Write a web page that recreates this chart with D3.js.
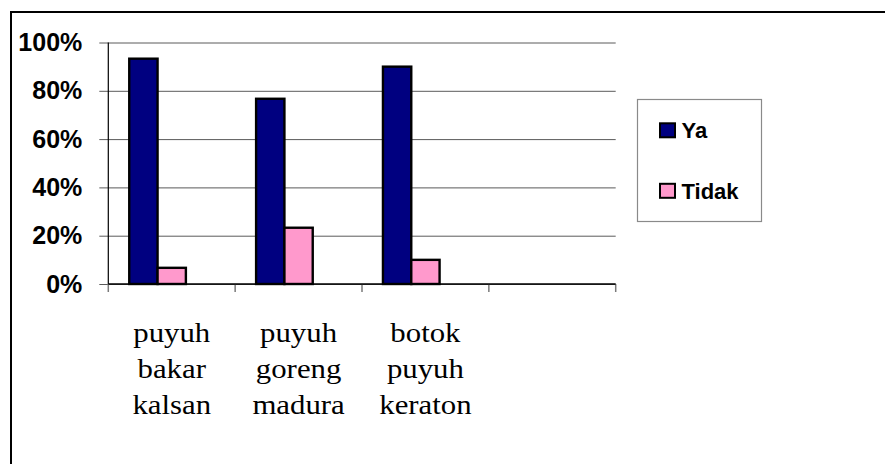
<!DOCTYPE html>
<html>
<head>
<meta charset="utf-8">
<script src="https://cdn.jsdelivr.net/npm/d3@7"></script>
<style>
  body { margin: 0; background: #fff; }
  svg { display: block; }
</style>
</head>
<body>
<div id="chart"></div>
<script>
// chart data
var categories = ["puyuh bakar kalsan", "puyuh goreng madura", "botok puyuh keraton", ""];
var seriesNames = ["Ya", "Tidak"];
var yaValues = [93.3, 76.7, 90];
var tidakValues = [6.7, 23.3, 10];
var yTicks = [0, 20, 40, 60, 80, 100];
var yTickLabels = ["0%", "20%", "40%", "60%", "80%", "100%"];
var colors = ["#000080", "#FF99CC"];

var svgWidth = 885;
var svgHeight = 464;
var margin = {top: 42.5, left: 108.3};
var width = 507.4;
var height = 241.5;

var svg = d3.select("#chart").append("svg")
  .attr("width", svgWidth)
  .attr("height", svgHeight);

// outer frame (only top and left edge visible)
svg.append("rect")
  .attr("x", 11).attr("y", 12)
  .attr("width", 1000).attr("height", 600)
  .attr("fill", "none")
  .attr("stroke", "#000")
  .attr("stroke-width", 2);

var g = svg.append("g")
  .attr("transform", `translate(${margin.left},${margin.top})`);

var x0 = d3.scaleBand()
  .domain(categories.map((d, i) => i))
  .range([0, width]);

// third slot is empty, keeps bars placed like the original
var x1 = d3.scaleBand()
  .domain(["Ya", "Tidak", "_"])
  .range([0, x0.bandwidth()])
  .paddingOuter(0.74);

var y = d3.scaleLinear().domain([0, 100]).range([height, 0]);

// gridlines + y ticks + labels
var yAxis = d3.axisLeft(y)
  .tickValues(yTicks)
  .tickSize(-(width + 9))
  .tickPadding(17)
  .tickFormat((d, i) => yTickLabels[i]);

var yg = g.append("g")
  .attr("transform", "translate(-9,0)")
  .call(yAxis);
yg.select(".domain").remove();
yg.selectAll(".tick line").attr("stroke", "#5a5a5a").attr("stroke-width", 1);
yg.selectAll(".tick text")
  .attr("font-family", "'Liberation Sans', Arial, sans-serif")
  .attr("font-weight", "bold")
  .attr("font-size", 25)
  .attr("fill", "#000");

// x tick marks at band boundaries
var bounds = categories.map((d, i) => x0(i)).concat([width]);
g.selectAll(".xtick")
  .data(bounds)
  .enter().append("line")
  .attr("x1", d => d).attr("x2", d => d)
  .attr("y1", height).attr("y2", height + 8)
  .attr("stroke", "#7a7a7a")
  .attr("stroke-width", 1.5);

// bars
var rows = [yaValues, tidakValues];
seriesNames.forEach(function(name, s) {
  g.selectAll(".bar-" + s)
    .data(rows[s])
    .enter().append("rect")
    .attr("x", (d, i) => x0(i) + x1(name))
    .attr("y", d => y(d))
    .attr("width", x1.bandwidth())
    .attr("height", d => height - y(d))
    .attr("fill", colors[s])
    .attr("stroke", "#000")
    .attr("stroke-width", 2.4);
});

// axis lines
g.append("line")
  .attr("x1", 0).attr("x2", width)
  .attr("y1", height).attr("y2", height)
  .attr("stroke", "#000").attr("stroke-width", 1.5);
g.append("line")
  .attr("x1", 0).attr("x2", 0)
  .attr("y1", 0).attr("y2", height)
  .attr("stroke", "#000").attr("stroke-width", 1.2);

// category labels
categories.forEach(function(c, i) {
  if (!c) return;
  var cx = x0(i) + x0.bandwidth() / 2;
  c.split(" ").forEach(function(word, k) {
    g.append("text")
      .attr("transform", `translate(${cx},${height + 57.7 + k * 36.2}) scale(1.1,1)`)
      .attr("text-anchor", "middle")
      .attr("font-family", "'Liberation Serif', 'Times New Roman', serif")
      .attr("font-size", 28)
      .attr("fill", "#000")
      .text(word);
  });
});

// legend
var legend = svg.append("g");
legend.append("rect")
  .attr("x", 637.5).attr("y", 99.5)
  .attr("width", 124).attr("height", 122)
  .attr("fill", "#fff")
  .attr("stroke", "#8a8a8a")
  .attr("stroke-width", 1.2);

var legendY = [138.3, 198.8];
seriesNames.forEach(function(name, s) {
  legend.append("rect")
    .attr("x", 660).attr("y", legendY[s] - 15)
    .attr("width", 15).attr("height", 14)
    .attr("fill", colors[s])
    .attr("stroke", "#000")
    .attr("stroke-width", 2);
  legend.append("text")
    .attr("x", 681.5).attr("y", legendY[s])
    .attr("font-family", "'Liberation Sans', Arial, sans-serif")
    .attr("font-weight", "bold")
    .attr("font-size", 22)
    .attr("fill", "#000")
    .text(name);
});
</script>
</body>
</html>
